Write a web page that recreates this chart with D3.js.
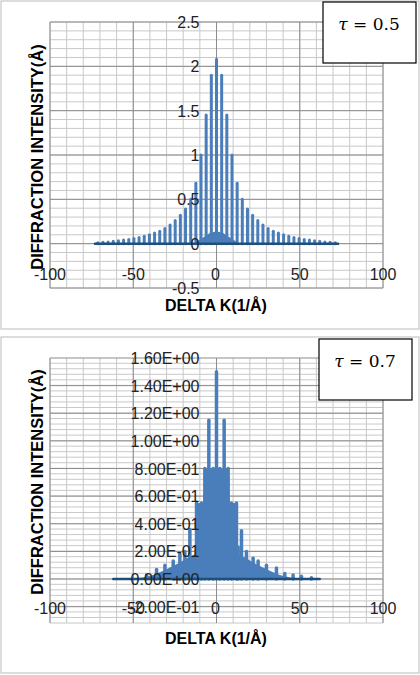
<!DOCTYPE html>
<html><head><meta charset="utf-8">
<script src="https://cdn.jsdelivr.net/npm/d3@7"></script>
<style>body{margin:0;background:#fff}svg{display:block}</style></head>
<body><svg id="c" width="420" height="675"></svg>
<script>
// ---- data: chart 1 (tau = 0.5)
const k1 = [0,3.1,6.2,9.3,12.4,15.5,18.6,21.7,24.8,27.9,31,34.1,37.2,40.3,43.4,46.5,49.6,52.7,55.8,58.9,62,65.1,68.2,71.3];
const v1 = [2.08,1.9,1.45,1.0,0.68,0.5,0.39,0.32,0.26,0.21,0.17,0.14,0.12,0.1,0.085,0.07,0.058,0.048,0.04,0.032,0.026,0.02,0.015,0.01];
const hump1K = [-14,-8,-4,0,4,8,14];
const hump1V = [0,0.07,0.12,0.14,0.12,0.07,0];
const range1 = [-73,73];
const yTicks1 = [-0.5,0,0.5,1,1.5,2,2.5];
// ---- data: chart 2 (tau = 0.7)
const k2 = [0,-4.6,4.6,-7,7,-2,2,-12,12,-9,9,-16,15,-19,13,-22,18,-26,22,-31,25,-36,30,-42,36,41,46,51,57];
const v2 = [1.5,1.15,1.15,0.8,0.8,0.8,0.8,0.55,0.55,0.55,0.55,0.36,0.35,0.2,0.23,0.18,0.2,0.13,0.15,0.1,0.13,0.07,0.1,0.03,0.08,0.04,0.03,0.02,0.01];
const fill2K = [-62,-45,-38,-32,-27,-22,-18,-13,-12,-8,-7,7,8,12,13,18,22,27,32,38,45,62];
const fill2V = [0,0.01,0.03,0.06,0.09,0.12,0.15,0.18,0.55,0.55,0.8,0.8,0.55,0.55,0.18,0.15,0.12,0.09,0.06,0.03,0.01,0];
const range2 = [-62,62];
const yTicks2 = [-0.2,0,0.2,0.4,0.6,0.8,1.0,1.2,1.4,1.6];
const xTicks = [-100,-50,0,50,100];

const svg = d3.select("#c");
const blue = "#4a7ebb", dark = "#1f4e79";
const F = "Liberation Sans, Arial, sans-serif";

function sci(v){
  if(v===0) return "0.00E+00";
  const e=Math.floor(Math.log10(Math.abs(v))+1e-9), m=v/Math.pow(10,e);
  return m.toFixed(2)+"E"+(e<0?"-":"+")+String(Math.abs(e)).padStart(2,"0");
}

function chart(o){
  const g = svg.append("g");
  g.append("rect").attr("x",o.fx).attr("y",o.fy).attr("width",o.fw).attr("height",o.fh)
    .attr("fill","#fff").attr("stroke","#bbb");
  const x = d3.scaleLinear().domain([-100,100]).range([50,383]);
  const y = d3.scaleLinear().domain(o.yd).range([o.yb,o.yt]);
  const gx = d3.range(-100,100.1,10), gy = d3.range(o.yd[0],o.yd[1]+1e-9,o.minor);
  g.selectAll(null).data(gy).join("line").attr("x1",50).attr("x2",383)
    .attr("y1",d=>y(d)).attr("y2",d=>y(d)).attr("stroke","#c8c8c8");
  g.selectAll(null).data(gx).join("line").attr("y1",o.yt).attr("y2",o.yb)
    .attr("x1",d=>x(d)).attr("x2",d=>x(d)).attr("stroke","#c8c8c8");
  g.selectAll(null).data(o.yt2).join("line").attr("x1",50).attr("x2",383)
    .attr("y1",d=>y(d)).attr("y2",d=>y(d)).attr("stroke","#8c8c8c");
  g.selectAll(null).data(xTicks).join("line").attr("y1",o.yt).attr("y2",o.yb)
    .attr("x1",d=>x(d)).attr("x2",d=>x(d)).attr("stroke","#8c8c8c");
  g.append("path").datum(o.fk.map((k,i)=>[k,o.fv[i]]))
    .attr("d",d3.area().x(d=>x(d[0])).y0(y(0)).y1(d=>y(d[1])))
    .attr("fill",blue);
  g.selectAll(null).data(o.sk.map((k,i)=>[k,o.sv[i]])).join("line")
    .attr("x1",d=>x(d[0])).attr("x2",d=>x(d[0])).attr("y1",y(0)).attr("y2",d=>y(d[1]))
    .attr("stroke",blue).attr("stroke-width",o.sw).attr("stroke-linecap","round");
  g.append("line").attr("x1",x(o.r[0])).attr("x2",x(o.r[1])).attr("y1",y(0)).attr("y2",y(0))
    .attr("stroke",dark).attr("stroke-width",2.5).attr("stroke-linecap","round");
  g.selectAll(null).data(o.yt2).join("text").attr("x",x(0)-17).attr("y",d=>y(d)+6)
    .attr("text-anchor","end").attr("font-family",F).attr("font-size",o.fs).attr("fill","#222")
    .text(o.fmt);
  g.selectAll(null).data(xTicks).join("text").attr("x",d=>x(d)+(d===0?-1:0)).attr("y",o.xl)
    .attr("text-anchor","middle").attr("font-family",F).attr("font-size",16).attr("fill","#222")
    .text(d=>d);
  g.append("text").attr("transform",`translate(43,${o.ytc}) rotate(-90)`).attr("text-anchor","middle")
    .attr("font-family",F).attr("font-weight","bold").attr("font-size",16.5).text("DIFFRACTION INTENSITY(Å)");
  g.append("text").attr("x",216).attr("y",o.xtc).attr("text-anchor","middle")
    .attr("font-family",F).attr("font-weight","bold").attr("font-size",16).text("DELTA K(1/Å)");
  g.append("rect").attr("x",o.bx).attr("y",o.by).attr("width",93).attr("height",61)
    .attr("fill","#fff").attr("stroke","#000").attr("stroke-width",1.2);
  const t = g.append("text").attr("x",o.bx+46).attr("y",o.by+28).attr("text-anchor","middle")
    .attr("font-family","DejaVu Serif, serif").attr("font-size",17);
  t.append("tspan").attr("font-style","italic").text("τ");
  t.append("tspan").text(" = "+o.tau);
}

chart({fx:1,fy:1,fw:418,fh:328,yd:[-0.5,2.5],yb:288,yt:22,minor:0.1,yt2:yTicks1,
  fk:hump1K,fv:hump1V,sk:k1.concat(k1.slice(1).map(d=>-d)),sv:v1.concat(v1.slice(1)),sw:3,
  r:range1,fs:16,fmt:d=>d,xl:280,ytc:157,xtc:311,bx:323,by:2,tau:"0.5"});
chart({fx:1,fy:337,fw:418,fh:336,yd:[-0.318,1.6],yb:623,yt:358,minor:0.04,yt2:yTicks2,
  fk:fill2K,fv:fill2V,sk:k2,sv:v2,sw:3.5,
  r:range2,fs:16,fmt:sci,xl:614,ytc:482,xtc:644,bx:319,by:339,tau:"0.7"});
</script></body></html>
